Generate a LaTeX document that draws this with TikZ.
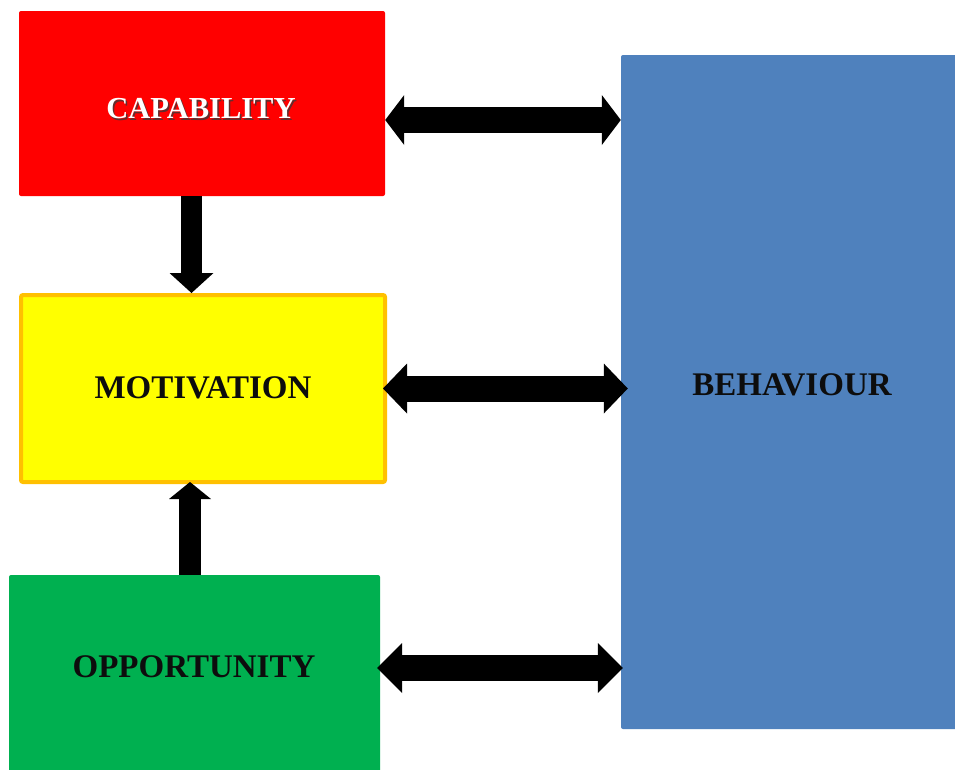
\documentclass[tikz,border=0pt]{standalone}
\usepackage{fontspec}
\setmainfont{Liberation Serif}
\usetikzlibrary{arrows.meta,calc}

\definecolor{capred}{HTML}{FF0000}
\definecolor{motyellow}{HTML}{FFFF00}
\definecolor{motorange}{HTML}{FFC000}
\definecolor{oppgreen}{HTML}{00B050}
\definecolor{behblue}{HTML}{4F81BD}
\definecolor{labelink}{HTML}{0D0D0D}
\definecolor{shadowgrey}{HTML}{3A3A3A}

\begin{document}
\begin{tikzpicture}[x=1pt,y=-1pt,
  box/.style={rectangle, rounded corners=2pt, inner sep=0pt, draw=none},
  lbl/.style={font=\bfseries\fontsize{33}{38}\selectfont, text=labelink, inner sep=0pt},
  caplbl/.style={font=\bfseries\fontsize{30.5}{36}\selectfont, inner sep=0pt},
  hbar/.style={line width=26pt, line cap=butt,
    {Triangle[width=50pt,length=#1,line width=0pt]}-{Triangle[width=50pt,length=#1,line width=0pt]}}
]
\clip (0,0) rectangle (955,769);
\fill[white] (0,0) rectangle (955,769);

% the four blocks
\node[box, fill=capred, minimum width=366pt, minimum height=185pt] (cap) at (202,103.5) {};
\node[box, fill=motyellow, draw=motorange, line width=4pt,
      minimum width=364pt, minimum height=187pt] (mot) at (203,388.5) {};
\node[box, fill=oppgreen, minimum width=371pt, minimum height=210pt] (opp) at (194.5,680) {};
\node[box, fill=behblue, minimum width=349pt, minimum height=674pt] (beh) at (795.5,392) {};

% block labels
\node[caplbl, text=shadowgrey, opacity=0.8] (capshade) at (202.5,110.5) {CAPABILITY};
\node[caplbl, text=white] (captext) at (201,109) {CAPABILITY};
\node[lbl] (mottext) at (203,388) {MOTIVATION};
\node[lbl] (opptext) at (194,667) {OPPORTUNITY};
\node[lbl] (behtext) at (792,385) {BEHAVIOUR};

% two-way links to behaviour
\draw[hbar=19pt] ($(cap.east)+(0,16.5)$) -- ($(beh.west |- cap.east)+(0,16.5)$);
\draw[hbar=24pt] ($(mot.east)+(-4,0)$) -- ($(beh.west |- mot.east)+(7,0)$);
\draw[hbar=25pt] ($(opp.east)+(-3,-12)$) -- ($(beh.west |- opp.east)+(2,-12)$);

% links into motivation
\draw[line width=21pt, line cap=butt, -{Triangle[width=44pt,length=20pt,line width=0pt]}]
  ($(cap.south)+(-10.5,0)$) -- ($(mot.north -| cap.south)+(-10.5,0)$);
\draw[line width=22pt, line cap=butt, -{Triangle[width=42pt,length=17pt,line width=0pt]}]
  ($(opp.north)+(-4.5,0)$) -- ($(mot.south -| opp.north)+(-4.5,-2)$);
\end{tikzpicture}
\end{document}
